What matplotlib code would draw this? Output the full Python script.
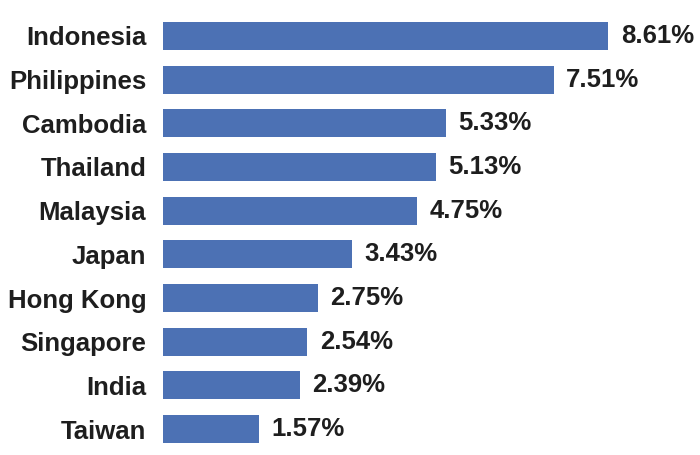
import numpy as np
import matplotlib.pyplot as plt

countries = ["Indonesia", "Philippines", "Cambodia", "Thailand", "Malaysia",
             "Japan", "Hong Kong", "Singapore", "India", "Taiwan"]
values = [8.61, 7.51, 5.33, 5.13, 4.75, 3.43, 2.75, 2.54, 2.39, 1.57]
labels = ["8.61%", "7.51%", "5.33%", "5.13%", "4.75%",
          "3.43%", "2.75%", "2.54%", "2.39%", "1.57%"]

# the original axis does not start at zero
base = -0.375

plt.rcParams['font.family'] = ['Liberation Sans', 'DejaVu Sans']

fig = plt.figure(figsize=(7.0, 4.55), dpi=100)
ax = fig.add_axes([163 / 700, 0, 1 - 163 / 700, 1])

y = np.arange(len(countries))
vals = np.array(values)
bars = ax.barh(y, vals - base, left=base, height=0.64, color='#4C71B4')

for yi, v, lab in zip(y, vals, labels):
    ax.annotate(lab, (v, yi), xytext=(9, 0), textcoords='offset points',
                va='center', ha='left', fontsize=18.5, fontweight='bold',
                color='#1e1e1e')

ax.set_yticks(y)
ax.set_yticklabels(countries, fontsize=18.5, fontweight='bold', color='#1e1e1e')
ax.tick_params(axis='y', length=0, pad=12)
ax.set_xticks([])
ax.set_xlim(base, base + 537 / 49.55)
ax.set_ylim(9.595, -0.824)
for s in ax.spines.values():
    s.set_visible(False)

fig.savefig('out.png', dpi=100)
